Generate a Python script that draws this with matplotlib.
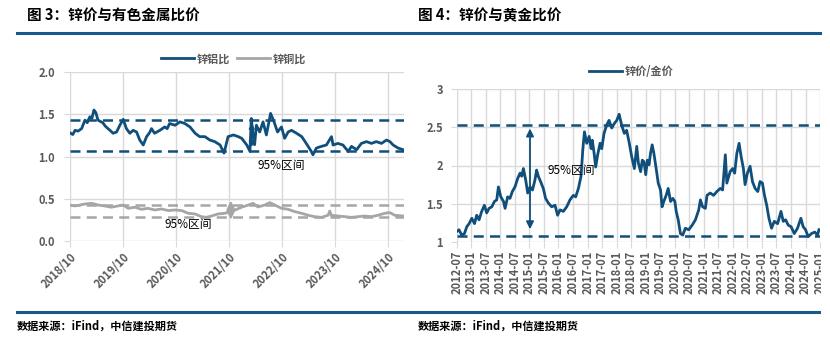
import matplotlib
matplotlib.use("Agg")
import matplotlib.pyplot as plt
import matplotlib.dates as mdates
import pandas as pd
from matplotlib.lines import Line2D
from matplotlib.patches import Rectangle
from matplotlib.ticker import FuncFormatter

plt.rcParams["font.family"] = ["Noto Sans CJK SC", "DejaVu Sans"]

# 图3：锌铝比
zal_dates = ["2018-10-01", "2018-10-20", "2018-11-05", "2018-11-25", "2018-12-20", "2019-01-12",
             "2019-01-28", "2019-02-15", "2019-03-01", "2019-03-15", "2019-03-28", "2019-04-12",
             "2019-05-15", "2019-06-01", "2019-06-20", "2019-07-10", "2019-07-25", "2019-08-18",
             "2019-09-10", "2019-10-03", "2019-10-25", "2019-11-18", "2019-12-10", "2020-01-03",
             "2020-01-25", "2020-02-18", "2020-03-12", "2020-04-01", "2020-04-15", "2020-05-06",
             "2020-06-12", "2020-07-15", "2020-08-01", "2020-08-18", "2020-09-25", "2020-10-28",
             "2020-12-01", "2021-01-05", "2021-02-10", "2021-03-13", "2021-04-18", "2021-05-22",
             "2021-06-25", "2021-08-01", "2021-08-28", "2021-09-25", "2021-11-01", "2021-12-04",
             "2021-12-28", "2022-02-01", "2022-02-23", "2022-03-04", "2022-03-16", "2022-03-27",
             "2022-04-08", "2022-05-01", "2022-05-24", "2022-06-16", "2022-07-15", "2022-08-08",
             "2022-09-01", "2022-09-28", "2022-10-20", "2022-11-13", "2022-12-06", "2023-01-10",
             "2023-02-15", "2023-03-18", "2023-04-22", "2023-05-03", "2023-05-27", "2023-07-01",
             "2023-08-04", "2023-09-08", "2023-09-19", "2023-10-22", "2023-11-26", "2024-01-01",
             "2024-01-24", "2024-02-28", "2024-04-01", "2024-05-06", "2024-06-10", "2024-07-13",
             "2024-08-18", "2024-09-21", "2024-10-15", "2024-11-06", "2024-12-10", "2025-01-15"]
zal_vals = [1.28, 1.26, 1.31, 1.30, 1.33, 1.43,
            1.40, 1.47, 1.45, 1.55, 1.52, 1.43,
            1.40, 1.36, 1.33, 1.30, 1.275, 1.29,
            1.37, 1.44, 1.33, 1.275, 1.31, 1.29,
            1.195, 1.136, 1.235, 1.28, 1.33, 1.275,
            1.31, 1.35, 1.33, 1.39, 1.37, 1.41,
            1.39, 1.35, 1.275, 1.235, 1.235, 1.195,
            1.176, 1.136, 1.04, 1.235, 1.255, 1.235,
            1.215, 1.136, 1.06, 1.45, 1.255, 1.14,
            1.37, 1.29, 1.41, 1.255, 1.51, 1.41,
            1.29, 1.35, 1.215, 1.29, 1.31, 1.275,
            1.235, 1.155, 1.06, 1.02, 1.10, 1.12,
            1.136, 1.235, 1.136, 1.155, 1.136, 1.06,
            1.12, 1.08, 1.155, 1.176, 1.155, 1.176,
            1.155, 1.195, 1.176, 1.136, 1.10, 1.08]

# 图3：锌铜比
zcu_dates = ["2018-10-01", "2018-11-05", "2018-12-09", "2019-01-12", "2019-02-28", "2019-04-12",
             "2019-05-28", "2019-07-13", "2019-08-28", "2019-10-03", "2019-11-06", "2019-12-22",
             "2020-02-06", "2020-03-22", "2020-05-07", "2020-06-24", "2020-08-09", "2020-09-24",
             "2020-11-09", "2020-12-24", "2021-02-09", "2021-03-25", "2021-04-28", "2021-06-03",
             "2021-07-18", "2021-09-03", "2021-10-07", "2021-11-12", "2021-12-27", "2022-02-12",
             "2022-03-16", "2022-04-19", "2022-06-05", "2022-07-09", "2022-08-13", "2022-09-28",
             "2022-11-13", "2022-12-28", "2023-02-14", "2023-04-01", "2023-05-15", "2023-07-01",
             "2023-08-15", "2023-08-27", "2023-09-07", "2023-10-24", "2023-12-09", "2024-01-24",
             "2024-03-09", "2024-04-24", "2024-06-09", "2024-07-24", "2024-09-09", "2024-10-15",
             "2024-11-18", "2025-01-15"]
zcu_vals = [0.426, 0.415, 0.426, 0.438, 0.446, 0.426,
            0.415, 0.40, 0.415, 0.426, 0.387, 0.40,
            0.375, 0.387, 0.367, 0.379, 0.36, 0.367,
            0.36, 0.328, 0.32, 0.288, 0.28, 0.296,
            0.32, 0.328, 0.348, 0.367, 0.40, 0.426,
            0.446, 0.403, 0.426, 0.454, 0.426, 0.387,
            0.375, 0.348, 0.328, 0.304, 0.288, 0.28,
            0.304, 0.355, 0.304, 0.296, 0.288, 0.28,
            0.288, 0.296, 0.288, 0.304, 0.328, 0.336,
            0.304, 0.296]

zal_band = [1.069, 1.435]
zcu_band = [0.28, 0.426]

# 图4：锌价/金价
zau_dates = ["2012-07-01", "2012-07-30", "2012-09-02", "2012-10-06", "2012-11-05", "2012-12-04",
             "2013-01-07", "2013-02-10", "2013-03-09", "2013-04-08", "2013-05-11", "2013-06-14",
             "2013-07-13", "2013-08-12", "2013-09-15", "2013-10-18", "2013-11-16", "2013-12-07",
             "2014-01-06", "2014-02-09", "2014-03-01", "2014-04-02", "2014-05-01", "2014-05-31",
             "2014-07-03", "2014-08-06", "2014-09-05", "2014-09-26", "2014-10-17", "2014-11-15",
             "2014-12-10", "2015-01-09", "2015-02-08", "2015-03-11", "2015-04-01", "2015-04-22",
             "2015-05-21", "2015-06-24", "2015-07-23", "2015-08-26", "2015-10-07", "2015-11-18",
             "2015-12-21", "2016-01-20", "2016-03-02", "2016-04-13", "2016-05-24", "2016-07-05",
             "2016-08-04", "2016-09-07", "2016-10-10", "2016-11-01", "2016-11-22", "2016-12-21",
             "2017-01-20", "2017-02-14", "2017-03-01", "2017-03-26", "2017-04-12", "2017-05-07",
             "2017-06-06", "2017-06-27", "2017-07-26", "2017-08-29", "2017-09-27", "2017-10-31",
             "2017-12-03", "2018-01-02", "2018-02-01", "2018-03-04", "2018-04-07", "2018-05-06",
             "2018-06-05", "2018-07-08", "2018-08-11", "2018-09-10", "2018-10-01", "2018-10-29",
             "2018-11-19", "2018-12-10", "2019-01-01", "2019-01-22", "2019-02-12", "2019-03-02",
             "2019-03-23", "2019-04-13", "2019-05-12", "2019-06-07", "2019-07-06", "2019-07-25",
             "2019-08-16", "2019-09-15", "2019-10-10", "2019-11-09", "2019-12-07", "2020-01-02",
             "2020-01-19", "2020-02-13", "2020-03-12", "2020-04-10", "2020-05-13", "2020-06-24",
             "2020-08-06", "2020-09-16", "2020-10-28", "2020-11-18", "2020-12-16", "2021-01-19",
             "2021-02-09", "2021-03-21", "2021-05-03", "2021-06-13", "2021-07-25", "2021-08-24",
             "2021-09-27", "2021-10-16", "2021-11-27", "2021-12-27", "2022-01-22", "2022-02-19",
             "2022-03-19", "2022-04-13", "2022-05-12", "2022-06-02", "2022-07-01", "2022-08-04",
             "2022-09-03", "2022-10-06", "2022-11-09", "2022-12-07", "2023-01-06", "2023-02-01",
             "2023-03-01", "2023-03-29", "2023-05-01", "2023-06-04", "2023-07-16", "2023-08-27",
             "2023-09-25", "2023-10-24", "2023-11-27", "2024-01-01", "2024-02-10", "2024-03-22",
             "2024-05-03", "2024-06-01", "2024-07-01", "2024-08-03", "2024-09-13", "2024-10-25",
             "2024-11-28", "2024-12-16"]
zau_vals = [1.135, 1.16, 1.09, 1.11, 1.20, 1.24,
            1.31, 1.24, 1.35, 1.29, 1.40, 1.48,
            1.38, 1.44, 1.46, 1.53, 1.55, 1.72,
            1.59, 1.53, 1.44, 1.59, 1.57, 1.66,
            1.72, 1.83, 1.90, 1.86, 1.96, 1.81,
            1.64, 1.72, 1.68, 1.81, 1.94, 1.86,
            1.79, 1.70, 1.57, 1.51, 1.46, 1.48,
            1.35, 1.42, 1.40, 1.46, 1.55, 1.61,
            1.59, 1.70, 1.86, 2.20, 2.44, 2.29,
            2.38, 2.22, 2.33, 2.14, 1.98, 2.14,
            2.29, 2.22, 2.42, 2.53, 2.59, 2.49,
            2.55, 2.59, 2.67, 2.53, 2.42, 2.46,
            2.31, 2.12, 1.96, 2.25, 2.03, 1.92,
            2.07, 2.05, 1.88, 2.07, 2.01, 2.16,
            2.27, 2.16, 1.96, 1.77, 1.68, 1.46,
            1.53, 1.61, 1.70, 1.53, 1.57, 1.53,
            1.40, 1.29, 1.11, 1.09, 1.18, 1.16,
            1.22, 1.29, 1.42, 1.55, 1.46, 1.44,
            1.61, 1.64, 1.61, 1.66, 1.70, 1.68,
            2.14, 1.77, 1.92, 1.96, 1.90, 2.16,
            2.29, 2.12, 1.96, 1.75, 1.90, 1.99,
            1.79, 1.70, 1.66, 1.79, 1.77, 1.61,
            1.48, 1.31, 1.18, 1.27, 1.24, 1.40,
            1.27, 1.29, 1.22, 1.20, 1.11, 1.18,
            1.31, 1.20, 1.16, 1.07, 1.11, 1.13,
            1.09, 1.16]
zau_band = [1.08, 2.53]

BLUE = "#104E7B"
RULE = "#155A8A"
GRAY = "#A6A6A6"
GRID = "#D9D9D9"
TICK = "#595959"

W, H = 830, 357
fig = plt.figure(figsize=(W / 100, H / 100), dpi=100)


def px_axes(x0, x1, ytop, ybot):
    return fig.add_axes([x0 / W, 1 - ybot / H, (x1 - x0) / W, (ybot - ytop) / H])


def style(ax):
    for s in ax.spines.values():
        s.set_visible(False)
    ax.grid(True, color=GRID, linewidth=1)
    ax.set_axisbelow(True)
    ax.tick_params(axis="both", color=GRID, length=4, labelcolor=TICK, labelsize=8)
    for lab in ax.get_xticklabels() + ax.get_yticklabels():
        lab.set_fontweight("bold")


# ---- 图3 ----
ax1 = px_axes(70, 404, 72, 241)
d_al = pd.to_datetime(zal_dates)
d_cu = pd.to_datetime(zcu_dates)
ax1.plot(d_al, zal_vals, color=BLUE, lw=2.0, label="锌铝比", zorder=3)
ax1.plot(d_cu, zcu_vals, color=GRAY, lw=2.0, label="锌铜比", zorder=3)
for v in zal_band:
    ax1.axhline(v, color=BLUE, lw=1.8, ls=(0, (4, 2.5)), zorder=2)
for v in zcu_band:
    ax1.axhline(v, color=GRAY, lw=1.8, ls=(0, (4, 2.5)), zorder=2)
ax1.annotate("", xy=(pd.Timestamp("2022-03-07"), 1.43), xytext=(pd.Timestamp("2022-03-07"), 1.08),
             arrowprops=dict(arrowstyle="<|-|>", color=BLUE, lw=1.2, mutation_scale=8), zorder=2)
ax1.annotate("", xy=(pd.Timestamp("2021-10-14"), 0.51), xytext=(pd.Timestamp("2021-10-14"), 0.22),
             arrowprops=dict(arrowstyle="<|-|>", color=GRAY, lw=1.5, mutation_scale=12), zorder=4)
ax1.text(pd.Timestamp("2022-04-19"), 0.89, "95%区间", fontsize=8.5, va="center", ha="left", color="black")
ax1.text(pd.Timestamp("2020-07-16"), 0.19, "95%区间", fontsize=8.5, va="center", ha="left", color="black")
ax1.set_xlim(pd.Timestamp("2018-10-01"), pd.Timestamp("2025-01-20"))
ax1.set_ylim(0, 2.0)
ax1.set_yticks([0, 0.5, 1.0, 1.5, 2.0])
ax1.yaxis.set_major_formatter(FuncFormatter(lambda v, p: f"{v:.1f}"))
ax1.xaxis.set_major_locator(mdates.MonthLocator(bymonth=[10]))
ax1.xaxis.set_major_formatter(mdates.DateFormatter("%Y/%m"))
style(ax1)
ax1.tick_params(axis="y", pad=7)
ax1.tick_params(axis="x", pad=3)
plt.setp(ax1.get_xticklabels(), rotation=45, ha="right", rotation_mode="anchor")
leg1 = ax1.legend(loc="lower center", bbox_to_anchor=(0.49, 1.04), ncol=2, frameon=False,
                  fontsize=8, handlelength=3, handletextpad=0.25, columnspacing=0.6,
                  borderaxespad=0, borderpad=0)
for t in leg1.get_texts():
    t.set_color(TICK)
    t.set_fontweight("bold")

# ---- 图4 ----
ax2 = px_axes(456.7, 820.2, 89, 242)
d_au = pd.to_datetime(zau_dates)
ax2.plot(d_au, zau_vals, color=BLUE, lw=2.0, label="锌价/金价", zorder=3)
for v in zau_band:
    ax2.axhline(v, color=BLUE, lw=1.8, ls=(0, (4, 2.5)), zorder=2)
ax2.annotate("", xy=(pd.Timestamp("2015-01-08"), 2.52), xytext=(pd.Timestamp("2015-01-08"), 1.13),
             arrowprops=dict(arrowstyle="<|-|>", color=BLUE, lw=1.3, mutation_scale=11), zorder=4)
ax2.text(pd.Timestamp("2015-08-20"), 1.94, "95%区间", fontsize=8.5, va="center", ha="left", color="black")
ax2.set_xlim(pd.Timestamp("2012-07-01"), pd.Timestamp("2025-01-01"))
ax2.set_ylim(1, 3)
ax2.set_yticks([1, 1.5, 2, 2.5, 3])
ax2.yaxis.set_major_formatter(FuncFormatter(lambda v, p: f"{v:g}"))
ax2.xaxis.set_major_locator(mdates.MonthLocator(bymonth=[1, 7]))
ax2.xaxis.set_major_formatter(mdates.DateFormatter("%Y-%m"))
style(ax2)
ax2.tick_params(axis="y", pad=6)
ax2.tick_params(axis="x", pad=2)
plt.setp(ax2.get_xticklabels(), rotation=90)
leg2 = ax2.legend(loc="lower center", bbox_to_anchor=(0.48, 1.07), frameon=False,
                  fontsize=8, handlelength=3, handletextpad=0.25, borderaxespad=0, borderpad=0)
for t in leg2.get_texts():
    t.set_color(TICK)
    t.set_fontweight("bold")

# ---- 标题、分隔线、来源 ----
fig.add_artist(Line2D([17 / W, 820 / W], [1 - 33 / H] * 2, color=RULE, lw=2.2))
fig.add_artist(Line2D([17 / W, 820 / W], [1 - 312 / H] * 2, color=RULE, lw=2.2))
fig.text(27 / W, 1 - 15 / H, "图 3：锌价与有色金属比价", fontsize=10.5, fontweight="bold", va="center")
fig.text(418 / W, 1 - 15 / H, "图 4：锌价与黄金比价", fontsize=10.5, fontweight="bold", va="center")
fig.text(17 / W, 1 - 326 / H, "数据来源：iFind，中信建投期货", fontsize=8, fontweight="bold", va="center")
fig.text(418 / W, 1 - 326 / H, "数据来源：iFind，中信建投期货", fontsize=8, fontweight="bold", va="center")
fig.add_artist(Rectangle((820.5 / W, 0), 10 / W, 1 - 40 / H, transform=fig.transFigure,
                         facecolor="white", edgecolor="none", zorder=10))

fig.savefig("out.png", dpi=100)
